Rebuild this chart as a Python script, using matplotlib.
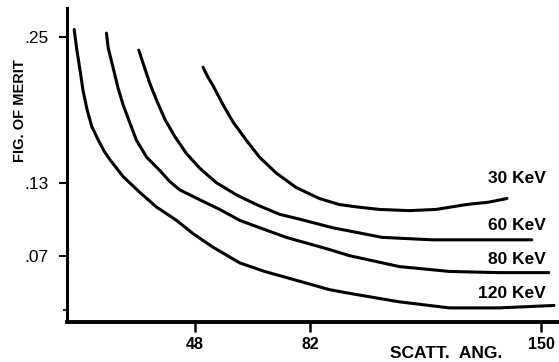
import numpy as np
import matplotlib.pyplot as plt

# angles (deg) and figure of merit
ang_30 = [50.5, 51.9, 53.4, 56.4, 59.3, 63.2, 67.1, 72.0, 77.9, 84.7, 90.6, 95.9,
          102.3, 111.1, 119.1, 127.9, 134.6, 139.9]
fom_30 = [0.225, 0.217, 0.210, 0.194, 0.180, 0.165, 0.151, 0.138, 0.126, 0.117, 0.112, 0.110,
          0.108, 0.107, 0.108, 0.112, 0.114, 0.117]

ang_60 = [31.6, 32.9, 34.8, 36.8, 39.3, 42.2, 45.6, 49.5, 54.4, 60.3, 66.2, 73.0,
          78.9, 88.5, 103.2, 117.9, 131.7, 147.2]
fom_60 = [0.239, 0.228, 0.212, 0.198, 0.182, 0.168, 0.154, 0.142, 0.130, 0.120, 0.112, 0.104,
          0.100, 0.093, 0.085, 0.083, 0.083, 0.083]

ang_80 = [22.1, 22.6, 24.1, 25.5, 27.0, 29.0, 30.9, 33.9, 37.8, 40.7, 43.7, 49.5,
          55.4, 61.3, 67.1, 75.0, 87.7, 93.5, 108.2, 122.9, 137.5, 152.2]
fom_80 = [0.253, 0.241, 0.224, 0.208, 0.194, 0.179, 0.165, 0.151, 0.140, 0.131, 0.124, 0.116,
          0.108, 0.099, 0.093, 0.085, 0.075, 0.070, 0.061, 0.057, 0.056, 0.056]

ang_120 = [12.6, 13.4, 14.3, 15.2, 16.4, 17.8, 19.7, 21.4, 23.1, 27.0, 31.9, 36.8,
           42.7, 47.6, 53.4, 61.3, 68.6, 75.0, 87.7, 93.5, 108.2, 122.9, 137.5, 153.7]
fom_120 = [0.256, 0.239, 0.223, 0.206, 0.190, 0.176, 0.165, 0.156, 0.149, 0.135, 0.122, 0.110,
           0.099, 0.088, 0.077, 0.064, 0.057, 0.052, 0.042, 0.039, 0.032, 0.027, 0.027, 0.029]

labels = ["30 KeV", "60 KeV", "80 KeV", "120 KeV"]
label_y = [0.1334, 0.0947, 0.0664, 0.0388]

xticks = [48, 82, 150]
yticks = [0.07, 0.13, 0.25]
yticklabels = [".07", ".13", ".25"]

font = "Liberation Sans"

fig = plt.figure(figsize=(5.59, 3.62), dpi=100)
ax = fig.add_axes([0.1199, 0.1105, 0.8783, 0.8675])

for a, f in [(ang_30, fom_30), (ang_60, fom_60), (ang_80, fom_80), (ang_120, fom_120)]:
    ax.plot(a, f, color="black", lw=2.2, solid_capstyle="round", solid_joinstyle="round")
for lab, yl in zip(labels, label_y):
    ax.text(151.3, yl, lab, ha="right", va="center", fontsize=12.5,
            fontweight="bold", family=font)

ax.set_xlim(10.5, 154.9)
ax.set_ylim(0.0154, 0.2737)

ax.spines["top"].set_visible(False)
ax.spines["right"].set_visible(False)
ax.spines["left"].set_linewidth(2.2)
ax.spines["bottom"].set_linewidth(2.8)

ax.set_xticks(xticks)
ax.set_xticklabels([str(t) for t in xticks], fontsize=11.5, fontweight="bold", family=font)
ax.set_yticks(yticks)
ax.set_yticklabels(yticklabels, fontsize=12.5, family=font)
ax.set_yticks([0.025], minor=True)
ax.tick_params(axis="x", which="major", direction="out", length=7, width=1.8, pad=4)
ax.tick_params(axis="y", which="major", direction="out", length=6, width=1.5, pad=7)
ax.tick_params(axis="y", which="minor", direction="out", length=3, width=1.2)

ax.set_ylabel("FIG. OF MERIT", fontsize=10.5, fontweight="bold", family=font)
ax.yaxis.set_label_coords(-0.082, 0.672)
ax.text(0.772, -0.099, "SCATT.  ANG.", transform=ax.transAxes, fontsize=12.5,
        fontweight="bold", family=font, ha="center", va="center")

fig.savefig("out.png", dpi=100)
